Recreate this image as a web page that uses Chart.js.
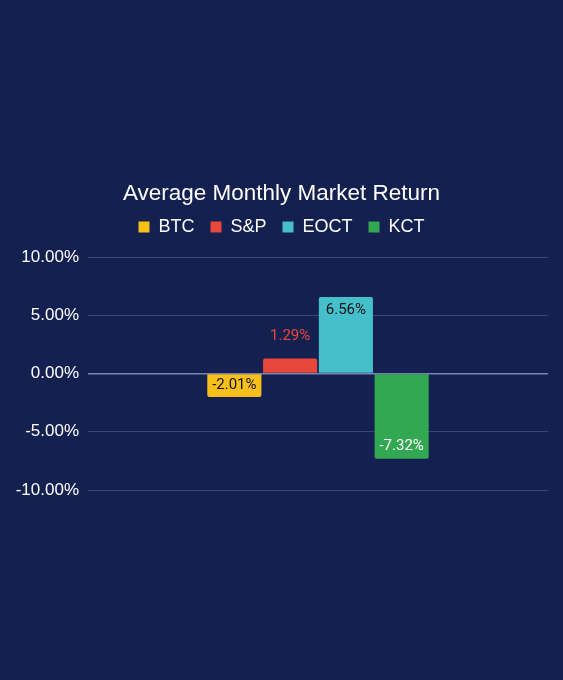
<!DOCTYPE html>
<html><head><meta charset="utf-8">
<script src="https://cdn.jsdelivr.net/npm/chart.js@4"></script>
<style>html,body{margin:0;padding:0;background:#142050;}#wrap{position:relative;width:563px;height:680px;}</style>
</head><body><div id="wrap"><canvas id="c"></canvas></div>
<script>
const categories = [''];
const seriesNames = ['BTC', 'S&P', 'EOCT', 'KCT'];
const seriesValues = [[-2.01], [1.29], [6.56], [-7.32]];
const seriesColors = ['#f6bf1a', '#e8473b', '#45bfcb', '#33a852'];
const labelColors = ['#111111', '#e8473b', '#111111', '#ffffff'];
const yTicks = [-10, -5, 0, 5, 10];

const valueLabels = {
  id: 'valueLabels',
  afterDatasetsDraw(chart) {
    const ctx = chart.ctx;
    ctx.save();
    ctx.font = '15px Roboto';
    ctx.textAlign = 'center';
    ctx.textBaseline = 'middle';
    chart.data.datasets.forEach((ds, i) => {
      const meta = chart.getDatasetMeta(i);
      meta.data.forEach((bar, j) => {
        const v = ds.data[j];
        const txt = v.toFixed(2) + '%';
        const h = Math.abs(bar.base - bar.y);
        const dir = v >= 0 ? 1 : -1;
        let y, col;
        if (h < 20) {
          y = bar.y - dir * 22;
          col = ds.backgroundColor;
        } else {
          const inner = bar.y + dir * 13;
          const mid = (bar.y + bar.base) / 2;
          y = dir > 0 ? Math.min(inner, mid) : Math.max(inner, mid);
          col = labelColors[i];
        }
        ctx.fillStyle = col;
        ctx.fillText(txt, bar.x, y);
      });
    });
    ctx.restore();
  }
};

new Chart(document.getElementById('c'), {
  type: 'bar',
  data: {
    labels: categories,
    datasets: seriesNames.map((n, i) => ({
      label: n,
      data: seriesValues[i],
      backgroundColor: seriesColors[i],
      borderRadius: 2,
      borderSkipped: 'start',
      barPercentage: 0.97,
      categoryPercentage: 0.485
    }))
  },
  options: {
    responsive: true,
    maintainAspectRatio: false,
    animation: false,
    layout: { padding: { top: 180.5, bottom: 190, left: 15, right: 15 } },
    plugins: {
      title: {
        display: true,
        text: 'Average Monthly Market Return',
        color: '#ffffff',
        font: { family: 'Liberation Sans', size: 22.5, weight: 'normal', lineHeight: 1.2 },
        padding: { top: 0, bottom: -5.5 }
      },
      subtitle: {
        display: true,
        text: ' ',
        weight: 500,
        font: { size: 11, lineHeight: 1 },
        padding: 0
      },
      legend: {
        labels: {
          color: '#ffffff',
          font: { family: 'Liberation Sans', size: 18 },
          boxWidth: 11, boxHeight: 11,
          padding: 16
        }
      },
      tooltip: { enabled: false }
    },
    scales: {
      x: { display: false },
      y: {
        min: -10, max: 10,
        afterBuildTicks(axis) { axis.ticks = yTicks.map(v => ({ value: v })); },
        afterFit(axis) { axis.width = 73; },
        border: { display: false },
        grid: {
          drawTicks: false,
          color: ctx => ctx.tick && ctx.tick.value === 0 ? '#7884ae' : '#3a4878',
          lineWidth: ctx => ctx.tick && ctx.tick.value === 0 ? 1.6 : 1
        },
        ticks: {
          color: '#ffffff',
          padding: 9,
          font: { family: 'Liberation Sans', size: 17 },
          callback: v => v.toFixed(2) + '%'
        }
      }
    }
  },
  plugins: [valueLabels]
});
</script></body></html>
